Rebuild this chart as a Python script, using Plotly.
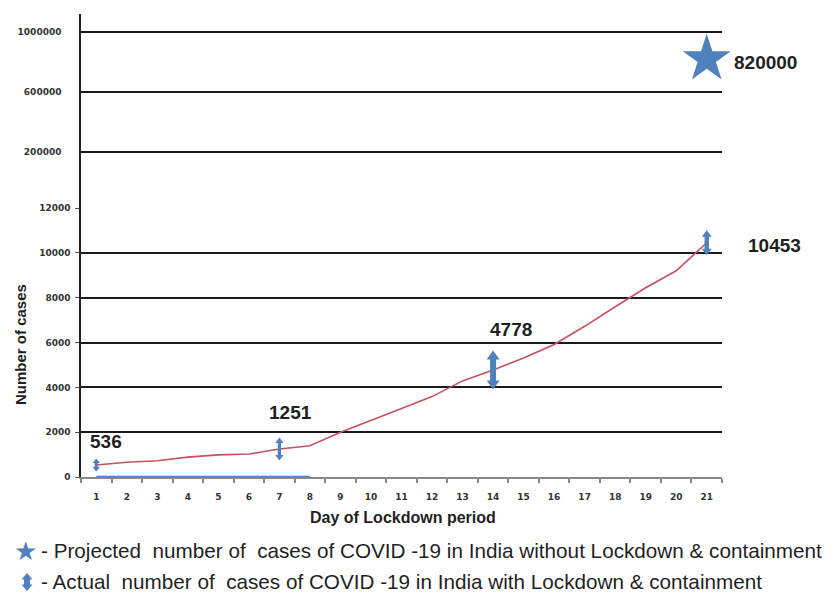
import plotly.graph_objects as go

# ---------------- data ----------------
days = [str(d) for d in range(1, 22)]
actual_cases = [536, 657, 727, 887, 987, 1024, 1251, 1397, 1998, 2543, 3059,
                3588, 4289, 4778, 5311, 5916, 6725, 7598, 8446, 9205, 10453]
marked_days = ["1", "7", "14", "21"]
marked_cases = [536, 1251, 4778, 10453]
projected_days = ["21"]
projected_cases = [820000]
baseline_days = ["1", "2", "3", "4", "5", "6", "7", "8"]
baseline_cases = [0, 0, 0, 0, 0, 0, 0, 0]
lower_ticks = [0, 2000, 4000, 6000, 8000, 10000, 12000]
upper_ticks = [200000, 600000, 1000000]
x_title = "Day of Lockdown period"
y_title = "Number of cases"
legend_projected = "- Projected  number of  cases of COVID -19 in India without Lockdown & containment"
legend_actual = "- Actual  number of  cases of COVID -19 in India with Lockdown & containment"

# ---------------- layout geometry ----------------
OFF = 8                      # page body margin of the html page
W, H = 836 - OFF, 599 - OFF
L, R, T, B = 81 - OFF, 114, 14 - OFF, 122
PW, PH = W - L - R, H - T - B
split = 269 / PH


def px_x(p):
    """reference page pixel -> paper x"""
    return (p - OFF - L) / PW


def px_y(p):
    """reference page pixel -> paper y"""
    return (H - B - (p - OFF)) / PH


def dbl_arrow(h, s, w, k):
    """double headed vertical arrow path in pixels around (0,0)"""
    a = h - k
    pts = [(-s, -a), (-w, -a), (0, -h), (w, -a), (s, -a),
           (s, a), (w, a), (0, h), (-w, a), (-s, a)]
    return "M " + " L ".join(f"{x},{y}" for x, y in pts) + " Z"


BLUE = "#4F81BD"
RED = "#C9505F"
GRID = "#1a1a1a"
TXT = "#1f1f1f"

fig = go.Figure()
fig.add_trace(go.Scatter(x=days, y=actual_cases, mode="lines",
                         line=dict(color=RED, width=1.6), hoverinfo="skip"))
fig.add_trace(go.Scatter(x=baseline_days, y=baseline_cases, mode="lines",
                         line=dict(color=BLUE, width=2.5), cliponaxis=False,
                         hoverinfo="skip"))
fig.add_trace(go.Scatter(x=projected_days, y=projected_cases, mode="markers",
                         yaxis="y2",
                         marker=dict(symbol="star", size=36, color=BLUE,
                                     line=dict(width=0)),
                         cliponaxis=False, hoverinfo="skip"))

# arrow styles: (half length, shaft half width, head half width, head length)
arrow_style = [(6.5, 1.6, 3.8, 4.5), (11.5, 1.6, 4.2, 5.5),
               (19.5, 3.0, 6.5, 9), (12.5, 2.2, 5, 6.5)]
shapes = []
for d, v, st in zip(marked_days, marked_cases, arrow_style):
    shapes.append(dict(type="path", xref="x", yref="y",
                       xsizemode="pixel", ysizemode="pixel",
                       xanchor=days.index(d), yanchor=v,
                       path=dbl_arrow(*st), fillcolor=BLUE,
                       line=dict(width=0), layer="above"))
# legend arrow icon
shapes.append(dict(type="path", xref="paper", yref="paper",
                   xsizemode="pixel", ysizemode="pixel",
                   xanchor=px_x(27), yanchor=px_y(582),
                   path=dbl_arrow(9, 3, 5.5, 6.5), fillcolor=BLUE,
                   line=dict(width=0), layer="above"))

annotations = []
# value labels (offset in px relative to point)
label_shift = [(10, 23), (11, 36), (18, 40), (68, -3)]
numfont = dict(family="Liberation Sans", size=19, color=TXT, weight="bold")
for d, v, (sx, sy) in zip(marked_days, marked_cases, label_shift):
    annotations.append(dict(x=days.index(d), y=v, xref="x", yref="y",
                            text=str(v), showarrow=False, xshift=sx,
                            yshift=sy, font=numfont))
annotations.append(dict(x=days.index(projected_days[0]), y=projected_cases[0],
                        xref="x", yref="y2", text=str(projected_cases[0]),
                        showarrow=False, xshift=59, yshift=-3, font=numfont))

# axis titles
annotations.append(dict(x=px_x(403), y=px_y(517), xref="paper", yref="paper",
                        xanchor="center", yanchor="middle",
                        text=x_title, showarrow=False,
                        font=dict(family="Liberation Sans", size=16,
                                  color=TXT, weight="bold")))
annotations.append(dict(x=px_x(20), y=px_y(345), xref="paper", yref="paper",
                        xanchor="center", yanchor="middle",
                        text=y_title, showarrow=False, textangle=-90,
                        font=dict(family="Liberation Sans", size=15,
                                  color=TXT, weight="bold")))

# legend lines
annotations.append(dict(x=px_x(25), y=px_y(551), xref="paper", yref="paper",
                        xanchor="center", yanchor="middle",
                        text="★", showarrow=False,
                        font=dict(family="DejaVu Sans", size=26, color=BLUE)))
legfont = dict(family="Liberation Sans", size=20.7, color=TXT)
annotations.append(dict(x=px_x(39), y=px_y(550), xref="paper", yref="paper",
                        xanchor="left", yanchor="middle",
                        text=legend_projected, showarrow=False, font=legfont))
annotations.append(dict(x=px_x(39), y=px_y(581), xref="paper", yref="paper",
                        xanchor="left", yanchor="middle",
                        text=legend_actual, showarrow=False, font=legfont))

tickfont = dict(family="DejaVu Sans", size=9, color="#333333", weight="bold")

fig.update_layout(
    width=W, height=H, margin=dict(l=L, r=R, t=T, b=B, autoexpand=False),
    plot_bgcolor="white", paper_bgcolor="white", showlegend=False,
    xaxis=dict(type="category", categoryorder="array", categoryarray=days,
               range=[-0.5, 20.5], anchor="y", tickson="boundaries",
               ticks="outside", ticklen=4, tickcolor="#888888", tickwidth=1.5,
               showline=True, linecolor="#888888", linewidth=1.5,
               showgrid=False, zeroline=False, tickfont=tickfont,
               ticklabelstandoff=10, layer="below traces"),
    yaxis=dict(domain=[0, split], range=[0, 12005], tickvals=lower_ticks,
               ticktext=[str(v) for v in lower_ticks],
               anchor="x", showline=True, linecolor="#222222", linewidth=1.5,
               showgrid=True, gridcolor=GRID, gridwidth=1.5, zeroline=False,
               ticks="outside", ticklen=4, tickcolor="#555555",
               tickfont=tickfont, ticklabelstandoff=3),
    yaxis2=dict(domain=[split, 1], range=[-173333, 1120000],
                tickvals=upper_ticks, ticktext=[str(v) for v in upper_ticks],
                anchor="x", showline=True,
                linecolor="#222222", linewidth=1.5, showgrid=True,
                gridcolor=GRID, gridwidth=1.5, zeroline=False,
                ticks="", tickfont=tickfont, ticklabelstandoff=16),
    annotations=annotations,
    shapes=shapes,
)

fig.write_html("out.html")
